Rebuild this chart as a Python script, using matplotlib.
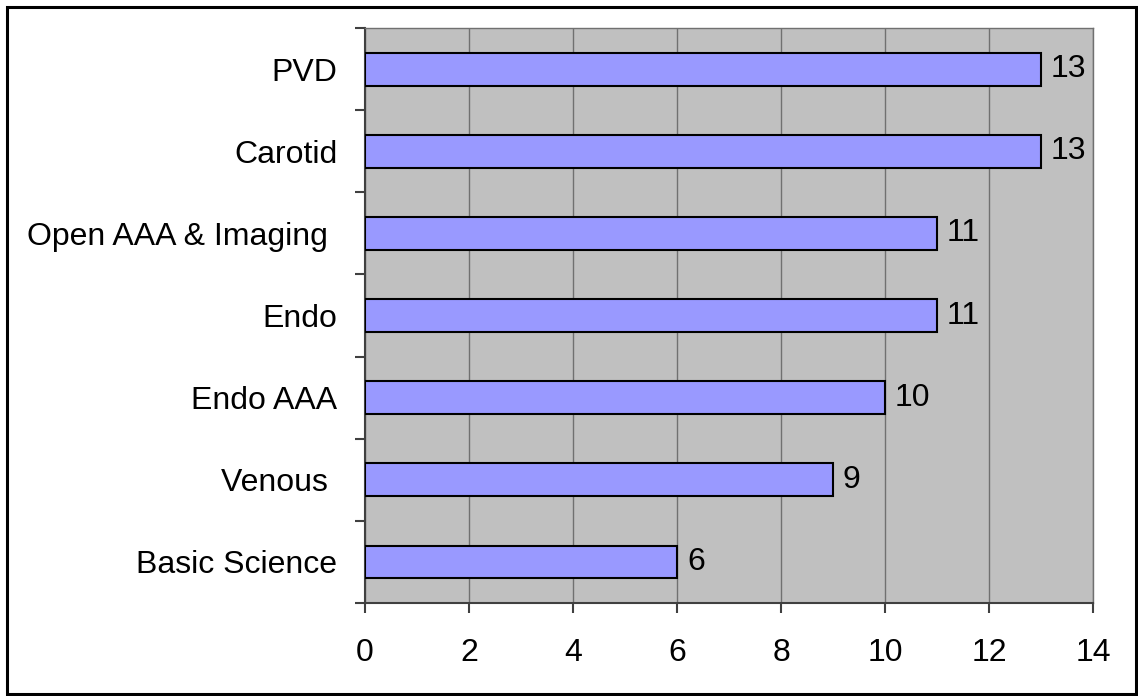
import matplotlib.pyplot as plt
from matplotlib.patches import Rectangle

plt.rcParams['font.family'] = ['Liberation Sans', 'DejaVu Sans']

categories = ['Basic Science', 'Venous ', 'Endo AAA', 'Endo', 'Open AAA & Imaging ', 'Carotid', 'PVD']
values = [6, 9, 10, 11, 11, 13, 13]
xticks = [0, 2, 4, 6, 8, 10, 12, 14]

fig = plt.figure(figsize=(11.38, 6.96), dpi=100)
ax = fig.add_axes([365/1138, 1 - 603/696, (1093 - 365)/1138, (603 - 28)/696])

ax.set_facecolor('#C0C0C0')
pos = range(len(categories))
ax.barh(pos, values, height=0.4, color='#9999FF', edgecolor='black', linewidth=1.5, zorder=3)

for p, v in zip(pos, values):
    ax.text(v + 0.19, p, str(v), va='center', ha='left', fontsize=23, zorder=4)

ax.set_xlim(0, 14)
ax.set_ylim(-0.5, len(categories) - 0.5)
ax.set_xticks(xticks)
ax.xaxis.grid(True, color='#707070', linewidth=1, zorder=1)
ax.set_axisbelow(True)

# category labels without ticks, ticks on category boundaries
ax.set_yticks(list(pos))
ax.set_yticklabels(categories, fontsize=23)
ax.tick_params(axis='y', length=0, pad=20)
ax.set_yticks([i - 0.5 for i in range(len(categories) + 1)], minor=True)
ax.tick_params(axis='y', which='minor', length=7, width=1.5, color='#404040')
ax.tick_params(axis='x', length=7, width=1.5, color='#404040', labelsize=23, pad=18)

for s in ['left', 'bottom']:
    ax.spines[s].set_color('#404040')
    ax.spines[s].set_linewidth(1.5)
for s in ['top', 'right']:
    ax.spines[s].set_color('#707070')
    ax.spines[s].set_linewidth(1)

# outer frame
fig.patches.append(Rectangle((7/1138, 1 - 694/696), 1129/1138, 687/696,
                             transform=fig.transFigure, fill=False,
                             edgecolor='black', linewidth=2.2))

fig.savefig('out.png', dpi=100, facecolor='white')
